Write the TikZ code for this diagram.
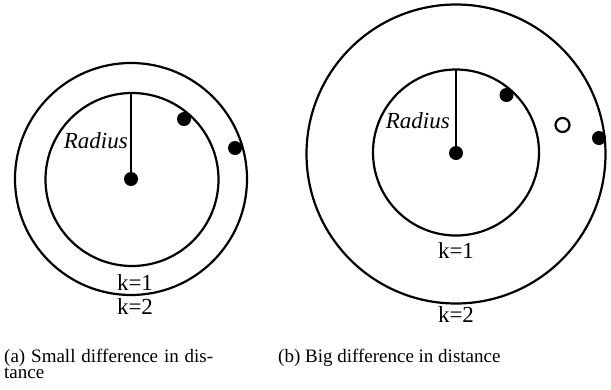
\documentclass[tikz,border=0pt]{standalone}
\usepackage{fontspec}
\setmainfont{Liberation Serif}
\begin{document}
\begin{tikzpicture}[x=1pt,y=-1pt,
  ring/.style={draw=black,line width=2.2pt},
  dot/.style={circle,fill=black,inner sep=0pt,minimum size=14pt},
  hollow/.style={circle,draw=black,fill=white,line width=2.2pt,inner sep=0pt,minimum size=14pt},
  lbl/.style={inner sep=0pt,font=\fontsize{23}{27}\selectfont},
  captxt/.style={inner sep=0pt,font=\fontsize{19}{16}\selectfont,anchor=base west}]
\useasboundingbox (0,0) rectangle (611,389);
% left figure
\draw[ring] (131,179) circle (116);
\draw[ring] (132,179.5) circle (86.5);
\node[dot] (ca) at (131,179) {};
\coordinate (ta) at (131,93);
\draw[line width=2.2pt] (ca.center) -- (ta);
\node[lbl,anchor=base east,font=\fontsize{23}{27}\selectfont\itshape] (ra) at (128,148) {Radius};
\node[dot] (a1) at (184,119) {};
\node[dot] (a2) at (235,148) {};
\node[lbl,anchor=base] (ak1) at (135,290) {k=1};
\node[lbl,anchor=base] (ak2) at (135,314) {k=2};
% right figure
\draw[ring] (456,154) circle (149.5);
\draw[ring] (456,152.5) circle (83);
\node[dot] (cb) at (456,153) {};
\coordinate (tb) at (456,70);
\draw[line width=2.2pt] (cb.center) -- (tb);
\node[lbl,anchor=base east,font=\fontsize{23}{27}\selectfont\itshape] (rb) at (450,128) {Radius};
\node[dot] (b1) at (506.5,95) {};
\node[hollow] (b2) at (562.5,125) {};
\node[dot] (b3) at (599,138) {};
\node[lbl,anchor=base] (bk1) at (456,258) {k=1};
\node[lbl,anchor=base] (bk2) at (456,322) {k=2};
% captions
\node[captxt] (capa) at (4,362) {\makebox[209pt][s]{(a) Small difference in dis-}};
\node[captxt] (capa2) at (4,378) {tance};
\node[captxt] (capb) at (278,362) {(b) Big difference in distance};
\end{tikzpicture}
\end{document}
